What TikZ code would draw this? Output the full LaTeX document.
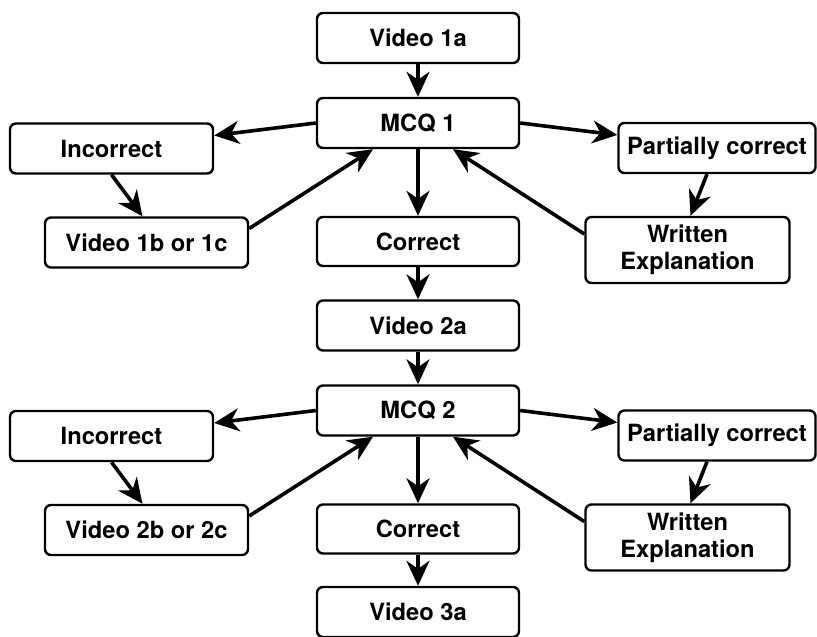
\documentclass[tikz,border=0pt]{standalone}
\usepackage{fontspec}
\setmainfont{TeX Gyre Heros}
\usetikzlibrary{arrows.meta}
\tikzset{
  stepbox/.style={draw, line width=2.4pt, rounded corners=6pt,
    minimum width=202pt, minimum height=50pt, align=center,
    font=\fontsize{23.7}{27}\selectfont\bfseries},
  flow/.style={line width=3.6pt, -{Stealth[length=25pt,width=23pt,inset=8pt]}}
}
\begin{document}
\begin{tikzpicture}[x=1pt,y=-1pt]
    \useasboundingbox (0,0) rectangle (817,637);
    \foreach \n/\dy in {1/0,2/287.5}{
        \node[stepbox] (vida\n) at (418,38+\dy) {Video \n{}a};
        \node[stepbox] (mcq\n) at (418,123+\dy) {MCQ \n};
        \node[stepbox, minimum width=203pt] (inc\n) at (111.5,148.5+\dy) {Incorrect};
        \node[stepbox, minimum width=203pt] (vidb\n) at (146.5,242.5+\dy) {Video \n{}b or \n{}c};
        \node[stepbox, minimum height=49pt] (cor\n) at (418,241.5+\dy) {Correct};
        \node[stepbox, minimum width=197pt] (par\n) at (717,148+\dy) {Partially correct};
        \node[stepbox, minimum width=204pt, minimum height=66pt] (wri\n) at (687.5,250+\dy) {Written\\Explanation};
        \draw[flow] (vida\n) -- (mcq\n);
        \draw[flow] (mcq\n.west) -- ([yshift=13pt]inc\n.east);
        \draw[flow] (inc\n.south) -- ([xshift=-4pt]vidb\n.north);
        \draw[flow] ([yshift=14pt]vidb\n.east) -- ([xshift=-45pt]mcq\n.south);
        \draw[flow] (mcq\n) -- (cor\n);
        \draw[flow] (mcq\n.east) -- ([yshift=13pt]par\n.west);
        \draw[flow] ([xshift=-10pt]par\n.south) -- ([xshift=3pt]wri\n.north);
        \draw[flow] ([yshift=16pt]wri\n.west) -- ([xshift=35pt]mcq\n.south);
    }
    \node[stepbox] (vida3) at (418,612) {Video 3a};
    \draw[flow] (cor1) -- (vida2);
    \draw[flow] (cor2) -- (vida3);
\end{tikzpicture}
\end{document}
